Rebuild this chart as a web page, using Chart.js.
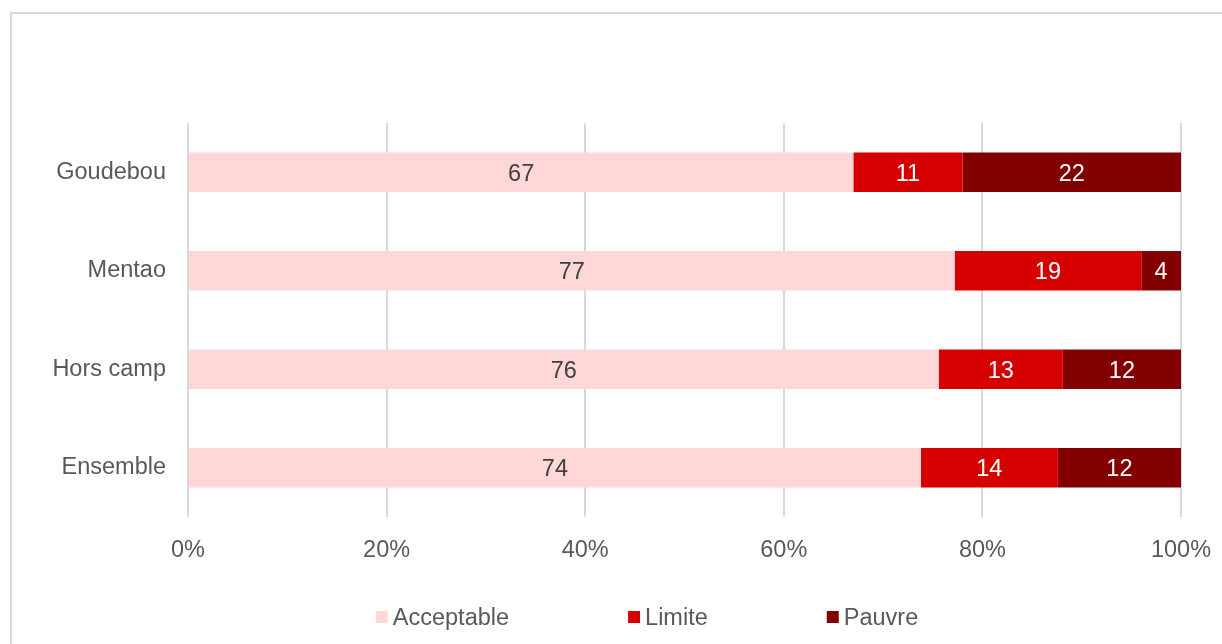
<!DOCTYPE html>
<html>
<head>
<meta charset="utf-8">
<script src="https://cdn.jsdelivr.net/npm/chart.js@4"></script>
<style>
    body { margin: 0; background: #fff; }
    #wrap { position: relative; width: 1222px; height: 644px; overflow: hidden; }
    #frame { position: absolute; left: 10px; top: 12px; width: 1300px; height: 700px;
             border-left: 2px solid #d9d9d9; border-top: 2px solid #d9d9d9; }
    canvas { position: absolute; left: 0; top: 0; }
</style>
</head>
<body>
<div id="wrap">
    <div id="frame"></div>
    <canvas id="chart" width="1222" height="644"></canvas>
</div>
<script>
const categories = ['Goudebou', 'Mentao', 'Hors camp', 'Ensemble'];
const acceptable = [67, 77.2, 75.6, 73.8];
const limite = [11, 18.8, 12.5, 13.8];
const pauvre = [22, 4, 11.9, 12.4];
const xTicks = [0, 20, 40, 60, 80, 100];

const FONT = '"Liberation Sans", Arial, sans-serif';
const TEXT = '#595959';
const SIZE = 23.5;

// étiquettes de valeurs au centre des barres
const valueLabels = {
    id: 'valueLabels',
    afterDatasetsDraw(chart) {
        const ctx = chart.ctx;
        ctx.save();
        ctx.font = SIZE + 'px ' + FONT;
        ctx.textAlign = 'center';
        ctx.textBaseline = 'middle';
        chart.data.datasets.forEach((ds, i) => {
            chart.getDatasetMeta(i).data.forEach((bar, j) => {
                const cx = (bar.x + bar.base) / 2;
                ctx.fillStyle = ds.labelColor;
                ctx.fillText(Math.round(ds.data[j]), cx, bar.y + 2);
            });
        });
        ctx.restore();
    }
};

// légende façon Excel
const excelLegend = {
    id: 'excelLegend',
    afterDraw(chart) {
        const ctx = chart.ctx;
        ctx.save();
        ctx.font = SIZE + 'px ' + FONT;
        ctx.textBaseline = 'middle';
        const box = 12, gap = 5, spacing = 119;
        const items = chart.data.datasets.map(ds => ({
            text: ds.label, color: ds.backgroundColor, w: box + gap + ctx.measureText(ds.label).width
        }));
        const total = items.reduce((s, it) => s + it.w, 0) + spacing * (items.length - 1);
        let x = 647 - total / 2;
        const y = 617;
        items.forEach(it => {
            ctx.fillStyle = it.color;
            ctx.fillRect(x, y - box / 2, box, box);
            ctx.fillStyle = TEXT;
            ctx.fillText(it.text, x + box + gap, y + 2);
            x += it.w + spacing;
        });
        ctx.restore();
    }
};

new Chart(document.getElementById('chart'), {
    type: 'bar',
    data: {
        labels: categories,
        datasets: [
            { label: 'Acceptable', data: acceptable, backgroundColor: '#ffd7d7', labelColor: '#404040' },
            { label: 'Limite', data: limite, backgroundColor: '#d60000', labelColor: '#ffffff' },
            { label: 'Pauvre', data: pauvre, backgroundColor: '#820000', labelColor: '#ffffff' }
        ]
    },
    options: {
        indexAxis: 'y',
        responsive: false,
        animation: false,
        devicePixelRatio: 1,
        layout: { padding: { left: 0, top: 123, right: 41, bottom: 0 } },
        datasets: { bar: { barPercentage: 0.4, categoryPercentage: 1 } },
        plugins: { legend: { display: false }, tooltip: { enabled: false } },
        scales: {
            x: {
                stacked: true,
                min: 0,
                max: 100,
                afterBuildTicks: scale => { scale.ticks = xTicks.map(v => ({ value: v })); },
                afterFit: scale => {
                    scale.height = 127;
                    scale.paddingLeft = 0;
                    scale.paddingRight = 0;
                },
                grid: { color: '#d9d9d9', lineWidth: 2, drawTicks: false },
                border: { display: false },
                ticks: {
                    padding: 19,
                    color: TEXT,
                    font: { family: FONT, size: SIZE },
                    callback: v => v + '%'
                }
            },
            y: {
                stacked: true,
                afterFit: scale => { scale.width = 188; },
                grid: { display: false, drawTicks: false },
                border: { display: false },
                ticks: {
                    padding: 22,
                    color: TEXT,
                    font: { family: FONT, size: SIZE }
                }
            }
        }
    },
    plugins: [valueLabels, excelLegend]
});
</script>
</body>
</html>
